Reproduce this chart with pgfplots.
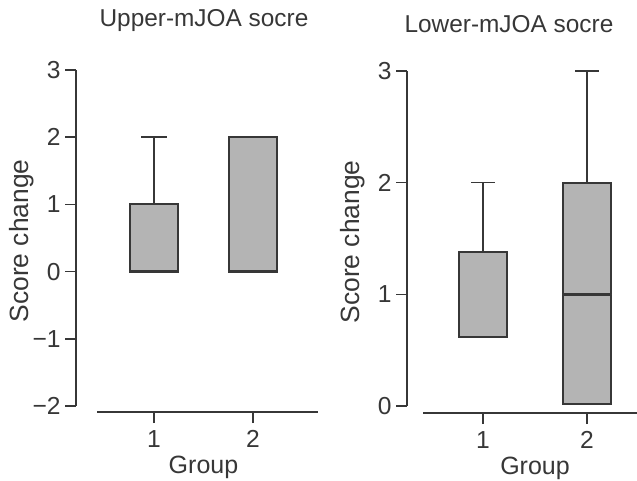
\documentclass[border=0pt]{standalone}
\usepackage{fontspec}
\setmainfont{Liberation Sans}
\usepackage{pgfplots}
\pgfplotsset{compat=1.18}
\usepgfplotslibrary{statistics}
\definecolor{boxfill}{RGB}{180,180,180}
\definecolor{ink}{RGB}{55,55,55}
\pgfplotsset{
  myaxis/.style={
    scale only axis, height=171pt,
    axis x line*=bottom, axis y line*=left,
    axis line style={-, ink, line width=0.8pt},
    tick align=outside, major tick length=5.5pt,
    tick style={ink, line width=0.8pt},
    xtick={1,2}, xticklabels={1,2},
    tick label style={font=\fontsize{12.3}{14}\selectfont, text=ink},
    xticklabel style={inner sep=1pt, yshift=-2.5pt},
    yticklabel style={inner sep=1pt, xshift=-1pt},
    label style={font=\fontsize{12.5}{14}\selectfont, text=ink},
    title style={font=\fontsize{12.2}{14}\selectfont, text=ink, at={(0.5,1)}, anchor=south, yshift=9.5pt},
    xlabel={Group}, ylabel={Score change},
    xlabel style={at={(axis cs:1.5,\pgfkeysvalueof{/pgfplots/ymin})}, anchor=north, inner sep=0pt, yshift=-22pt},
    ylabel style={at={([xshift=-27pt]axis description cs:0,0.5)}, anchor=center, font=\fontsize{13.2}{15}\selectfont},
    boxplot/draw direction=y,
    boxplot/box extend=0.49,
    boxplot/whisker extend=0.26,
    clip=false,
  },
  mybox/.style={draw=ink, fill=boxfill, line width=1pt, solid,
    boxplot/every whisker/.style={line width=0.8pt},
    boxplot/every median/.style={line width=1.2pt}},
}
\begin{document}
\begin{tikzpicture}
\begin{axis}[myaxis, at={(0pt,0pt)}, anchor=south west,
  width=121pt, xmin=0.212, xmax=2.657, ymin=-2.089, ymax=3,
  ytick={-2,-1,0,1,2,3}, yticklabels={−2,−1,0,1,2,3},
  y axis line style={shorten <=3pt},
  x axis line style={shorten <=10.5pt},
  title={Upper-mJOA socre}, title style={xshift=3.5pt}]
\addplot[mybox, boxplot prepared={lower whisker=0, lower quartile=0, median=0, upper quartile=1, upper whisker=2, draw position=1}] coordinates {};
\addplot[mybox, boxplot prepared={lower whisker=0, lower quartile=0, median=0, upper quartile=2, upper whisker=2, draw position=2}] coordinates {};
\end{axis}
\begin{axis}[myaxis, at={(165.5pt,-0.5pt)}, anchor=south west,
  width=115pt, xmin=0.269, xmax=2.481, ymin=-0.063, ymax=3,
  ytick={0,1,2,3}, yticklabels={0,1,2,3},
  y axis line style={shorten <=3.5pt},
  x axis line style={shorten <=8pt},
  boxplot/box extend=0.47, boxplot/whisker extend=0.23,
  title={Lower-mJOA socre}, title style={xshift=-6.5pt}]
\addplot[mybox, boxplot prepared={lower whisker=0.62, lower quartile=0.62, median=1.38, upper quartile=1.38, upper whisker=2, draw position=1}] coordinates {};
\addplot[mybox, boxplot prepared={lower whisker=0.02, lower quartile=0.02, median=1, upper quartile=2, upper whisker=3, draw position=2}] coordinates {};
\end{axis}
\pgfresetboundingbox
\path[use as bounding box] (-38pt,-34.5pt) rectangle (280.5pt,206pt);
\end{tikzpicture}
\end{document}
